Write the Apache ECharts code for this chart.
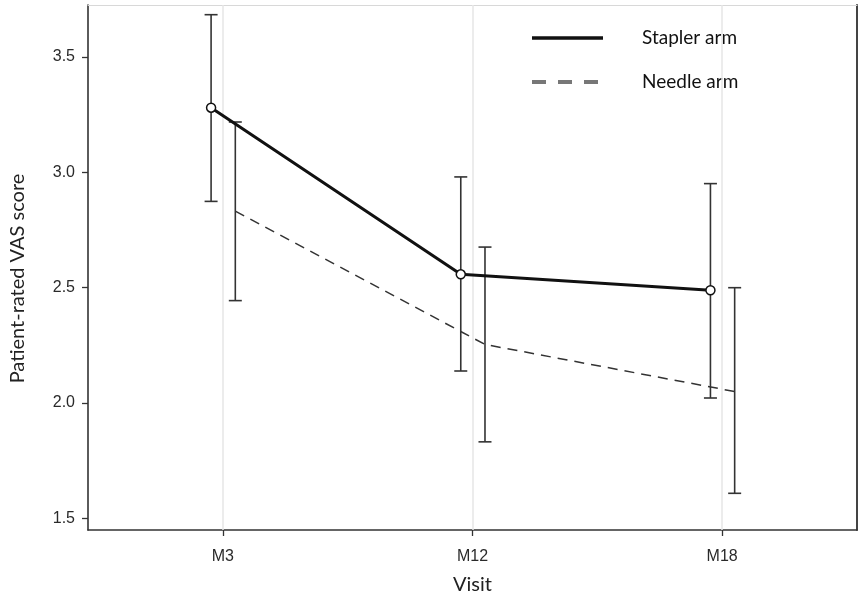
<!DOCTYPE html>
<html>
<head>
<meta charset="utf-8">
<script src="https://cdn.jsdelivr.net/npm/echarts@6/dist/echarts.min.js"></script>
<style>
html,body{margin:0;padding:0;background:#fff;}
#chart{width:862px;height:603px;}
</style>
</head>
<body>
<div id="chart"></div>
<script>
// ---- data ----
const visits = ['M3', 'M12', 'M18'];
const staplerMean  = [3.280, 2.558, 2.489];
const staplerLower = [2.874, 2.139, 2.022];
const staplerUpper = [3.683, 2.980, 2.951];
const needleMean   = [2.832, 2.254, 2.050];
const needleLower  = [2.444, 1.832, 1.609];
const needleUpper  = [3.218, 2.676, 2.500];
const yTicks = [1.5, 2.0, 2.5, 3.0, 3.5];
const visitPos = [1, 2, 3];
const staplerShift = -0.047;
const needleShift = 0.05;

const stX = visitPos.map(v => v + staplerShift);
const ndX = visitPos.map(v => v + needleShift);

function errData(xs, lo, hi) { return xs.map((x, i) => [x, lo[i], hi[i]]); }

function errRender(params, api) {
  const x = api.value(0);
  const lo = api.coord([x, api.value(1)]);
  const hi = api.coord([x, api.value(2)]);
  const w = 6.5;
  const st = { stroke: '#333', lineWidth: 1.6 };
  return {
    type: 'group',
    children: [
      { type: 'line', shape: { x1: lo[0], y1: lo[1], x2: hi[0], y2: hi[1] }, style: st },
      { type: 'line', shape: { x1: lo[0] - w, y1: lo[1], x2: lo[0] + w, y2: lo[1] }, style: st },
      { type: 'line', shape: { x1: hi[0] - w, y1: hi[1], x2: hi[0] + w, y2: hi[1] }, style: st }
    ]
  };
}

const chart = echarts.init(document.getElementById('chart'));
const labelFont = { fontFamily: 'Liberation Sans', fontSize: 16, color: '#2a2a2a' };
const titleFont = 'Lato';

chart.setOption({
  animation: false,
  backgroundColor: '#fff',
  grid: { left: 88, right: 5, top: 5, bottom: 73 },
  legend: {
    orient: 'vertical',
    left: 525,
    top: 22,
    itemWidth: 71,
    itemHeight: 22,
    itemGap: 22,
    selectedMode: false,
    textStyle: { fontFamily: titleFont, fontSize: 19, lineHeight: 22, color: '#111', padding: [0, 0, 0, 34] },
    data: [
      { name: 'Stapler arm', itemStyle: { opacity: 0 }, lineStyle: { color: '#111', width: 3.5, type: 'solid' } },
      { name: 'Needle arm', itemStyle: { opacity: 0 }, lineStyle: { color: '#777', width: 4, type: [14, 12] } }
    ]
  },
  xAxis: [{
    type: 'value', min: 0.46, max: 3.54,
    name: 'Visit', nameLocation: 'middle', nameGap: 45,
    nameTextStyle: { fontFamily: titleFont, fontSize: 20, color: '#222' },
    axisLine: { show: true, onZero: false, lineStyle: { color: '#333', width: 1.6 } },
    axisTick: { show: true, customValues: visitPos, length: 6, lineStyle: { color: '#333', width: 1.3 } },
    axisLabel: { customValues: visitPos, margin: 19, formatter: v => visits[visitPos.indexOf(v)] || '', ...labelFont },
    splitLine: { show: false }
  }, {
    type: 'value', min: 0.46, max: 3.54, position: 'top',
    axisLine: { show: true, onZero: false, lineStyle: { color: '#d8d8d8', width: 1 } },
    axisTick: { show: false }, axisLabel: { show: false }, splitLine: { show: false }
  }],
  yAxis: [{
    type: 'value', min: 1.45, max: 3.725,
    name: 'Patient-rated VAS score', nameLocation: 'middle', nameGap: 60,
    nameTextStyle: { fontFamily: titleFont, fontSize: 20, color: '#222', padding: [0, 22, 0, 0] },
    axisLine: { show: true, onZero: false, lineStyle: { color: '#333', width: 1.6 } },
    axisTick: { show: true, customValues: yTicks, length: 6, lineStyle: { color: '#333', width: 1.3 } },
    axisLabel: { customValues: yTicks, margin: 13, formatter: v => v.toFixed(1), ...labelFont },
    splitLine: { show: false }
  }, {
    type: 'value', min: 1.45, max: 3.725, position: 'right',
    axisLine: { show: true, onZero: false, lineStyle: { color: '#444', width: 2 } },
    axisTick: { show: false }, axisLabel: { show: false }, splitLine: { show: false }
  }],
  series: [
    {
      type: 'line', name: 'grid', data: [], silent: true,
      markLine: {
        silent: true, symbol: 'none', label: { show: false },
        lineStyle: { color: '#e6e6e6', width: 1.5, type: 'solid' },
        data: visitPos.map(v => ({ xAxis: v }))
      }
    },
    { type: 'custom', name: 'stErr', renderItem: errRender, data: errData(stX, staplerLower, staplerUpper), z: 3 },
    { type: 'custom', name: 'ndErr', renderItem: errRender, data: errData(ndX, needleLower, needleUpper), z: 3 },
    {
      type: 'line', name: 'Needle arm', data: ndX.map((x, i) => [x, needleMean[i]]),
      symbol: 'none', lineStyle: { color: '#333', width: 1.5, type: [10, 7] }, z: 4
    },
    {
      type: 'line', name: 'Stapler arm', data: stX.map((x, i) => [x, staplerMean[i]]),
      symbol: 'none', lineStyle: { color: '#111', width: 3 }, z: 5
    },
    {
      type: 'scatter', name: 'stPts', data: stX.map((x, i) => [x, staplerMean[i]]),
      symbol: 'circle', symbolSize: 9, itemStyle: { color: '#fff', opacity: 1, borderColor: '#111', borderWidth: 1.5 }, z: 6
    }
  ]
});
</script>
</body>
</html>
